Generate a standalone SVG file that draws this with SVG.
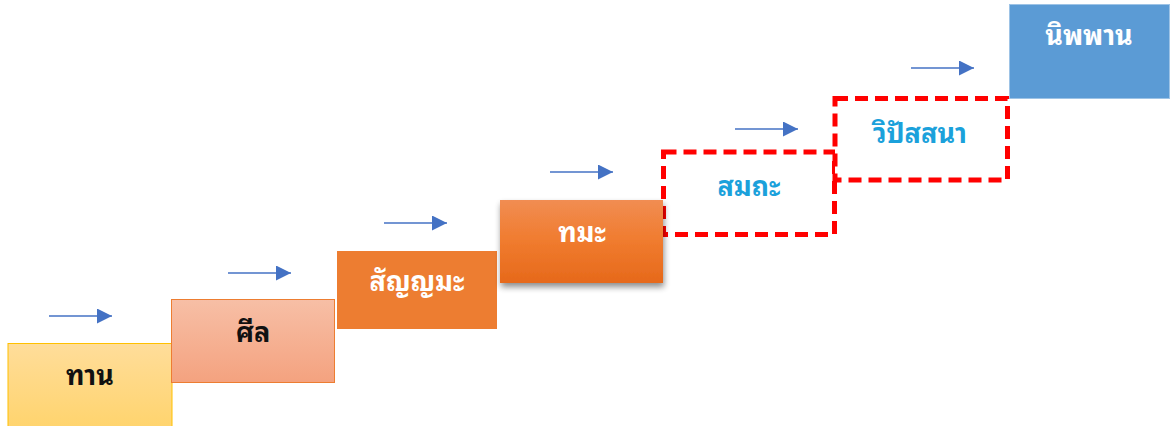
<svg xmlns="http://www.w3.org/2000/svg" width="1171" height="426" viewBox="0 0 1171 426">
<defs>
<linearGradient id="gTan" x1="0" y1="0" x2="0" y2="1"><stop offset="0" stop-color="#FFDD9A"/><stop offset="1" stop-color="#FFD46E"/></linearGradient>
<linearGradient id="gSil" x1="0" y1="0" x2="0" y2="1"><stop offset="0" stop-color="#F7BFA6"/><stop offset="1" stop-color="#F4A27F"/></linearGradient>
<linearGradient id="gTham" x1="0" y1="0" x2="0" y2="1"><stop offset="0" stop-color="#F18D52"/><stop offset="0.5" stop-color="#F07B2E"/><stop offset="1" stop-color="#E6691B"/></linearGradient>
<filter id="sh" x="-10%" y="-10%" width="130%" height="140%"><feGaussianBlur in="SourceAlpha" stdDeviation="3"/><feOffset dx="1" dy="4"/><feComponentTransfer><feFuncA type="linear" slope="0.45"/></feComponentTransfer><feMerge><feMergeNode/><feMergeNode in="SourceGraphic"/></feMerge></filter>
<marker id="ah" viewBox="0 0 10 10" refX="10" refY="5" markerWidth="15" markerHeight="15" markerUnits="userSpaceOnUse" orient="auto"><path d="M0,0 L10,5 L0,10 Z" fill="#4472C4"/></marker>
</defs>
<style>
text{font-family:"Noto Sans Thai Looped","Tahoma","Leelawadee UI","Noto Sans Thai","Noto Sans","DejaVu Sans",sans-serif;font-weight:bold;font-size:27px;text-anchor:middle}
.dark{fill:#111}
.white{fill:#fff}
.blue{fill:#1BA1DB}
.dash{fill:#fff;stroke:#FF0000;stroke-width:5;stroke-dasharray:13 7}
.arr{stroke:#4472C4;stroke-width:1.5;fill:none;marker-end:url(#ah)}
</style>
<g id="connectors">
<line class="arr" x1="49" y1="316" x2="112" y2="316"/>
<line class="arr" x1="228" y1="273" x2="291" y2="273"/>
<line class="arr" x1="384" y1="223" x2="447" y2="223"/>
<line class="arr" x1="550" y1="172" x2="613" y2="172"/>
<line class="arr" x1="735" y1="129" x2="798" y2="129"/>
<line class="arr" x1="911" y1="68" x2="974" y2="68"/>
</g>
<g id="tan">
<rect x="8" y="343.5" width="164" height="84" fill="url(#gTan)" stroke="#FFC000" stroke-width="1"/>
<text class="dark" x="90" y="385">ทาน</text>
</g>
<g id="sil">
<rect x="171.5" y="299.5" width="163" height="83" fill="url(#gSil)" stroke="#ED7D31" stroke-width="1"/>
<text class="dark" x="253" y="342">ศีล</text>
</g>
<g id="sanyama">
<rect x="337" y="251" width="160" height="78" fill="#ED7D31"/>
<text class="white" x="417" y="291">สัญญมะ</text>
</g>
<g id="samatha">
<rect class="dash" x="663.5" y="152" width="171" height="82.5"/>
<text class="blue" x="749" y="196">สมถะ</text>
</g>
<g id="thama">
<rect x="500" y="200" width="163" height="83" fill="url(#gTham)" filter="url(#sh)"/>
<text class="white" x="582" y="242">ทมะ</text>
</g>
<g id="vipassana">
<rect class="dash" x="835" y="98.5" width="172.5" height="81.5"/>
<text class="blue" x="920" y="143">วิปัสสนา</text>
</g>
<g id="nibbana">
<rect x="1009.5" y="4.5" width="160" height="94" fill="#5B9BD5" stroke="#9DC3E6" stroke-width="1"/>
<text class="white" x="1089" y="45">นิพพาน</text>
</g>
</svg>
